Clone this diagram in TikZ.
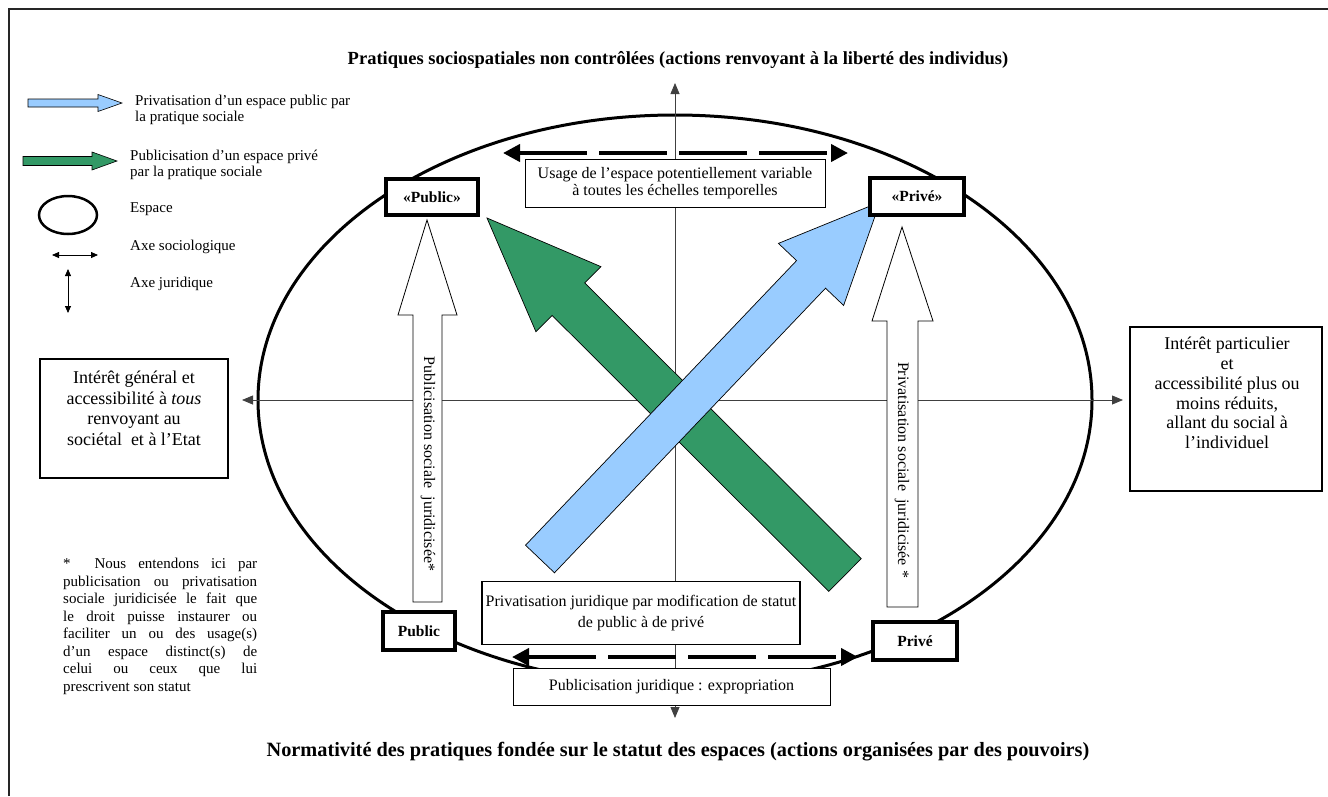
\documentclass[tikz,border=0pt]{standalone}
\usepackage{fontspec}
\setmainfont{Liberation Serif}
\usetikzlibrary{arrows.meta,calc}
\definecolor{lblue}{HTML}{99CCFF}
\definecolor{dgreen}{HTML}{339966}
\begin{document}
\begin{tikzpicture}[x=1pt,y=-1pt,
  axisline/.style={draw=black!75, line width=0.8pt, {Triangle[length=11pt,width=9pt]}-{Triangle[length=11pt,width=9pt]}},
  legaxis/.style={draw=black, line width=0.8pt, {Triangle[length=7pt,width=6pt]}-{Triangle[length=7pt,width=6pt]}},
  dasharr/.style={draw=black, line width=4pt, dash pattern=on 68pt off 12pt, {Triangle[length=17pt,width=17pt]}-{Triangle[length=17pt,width=17pt]}},
  tagbox/.style={draw=black, line width=3.5pt, fill=white, font=\fontsize{15.5}{17}\selectfont\bfseries, inner sep=0pt},
  plainbox/.style={draw=black, line width=1pt, fill=white, align=center, inner sep=0pt},
  sidebox/.style={draw=black, line width=1.5pt, fill=white, inner sep=0pt},
  sidetext/.style={anchor=north, align=center, inner sep=0pt},
  hollow/.style={draw=black, line width=0.8pt, fill=white},
  legtext/.style={anchor=west, align=left, inner sep=0pt, font=\fontsize{15}{16}\selectfont},
  vtext/.style={rotate=-90, inner sep=0pt, font=\fontsize{16}{18}\selectfont},
  titletext/.style={inner sep=0pt, font=\fontsize{18.5}{20}\selectfont\bfseries}
]
\useasboundingbox (0,0) rectangle (1328,796);
% frame
\draw[line width=1.2pt, black!85] (9,796) -- (9,9) -- (1328,9);

% titles
\node[titletext] (ttop) at (678,60) {Pratiques sociospatiales non contrôlées (actions renvoyant à la liberté des individus)};
\node[titletext, font=\fontsize{20.3}{22}\selectfont\bfseries] (tbot) at (678,752) {Normativité des pratiques fondée sur le statut des espaces (actions organisées par des pouvoirs)};

% legend
\draw[fill=lblue, line width=0.6pt] (28,99) -- (98,99) -- (98,94.5) -- (122,103) -- (98,111.5) -- (98,107) -- (28,107) -- cycle;
\node[legtext] (l1) at (135,110) {Privatisation d’un espace public par\\la pratique sociale};
\draw[fill=dgreen, line width=0.6pt] (23,156.5) -- (92,156.5) -- (92,152) -- (117,161) -- (92,170) -- (92,165.5) -- (23,165.5) -- cycle;
\node[legtext] (l2) at (130,165) {Publicisation d’un espace privé\\par la pratique sociale};
\draw[line width=2.5pt] (68,215) ellipse [x radius=29, y radius=19];
\node[legtext] (l3) at (130,209) {Espace};
\coordinate (sa) at (52,255); \coordinate (sb) at (98,255);
\draw[legaxis] (sa) -- (sb);
\node[legtext] (l4) at (130,247) {Axe sociologique};
\coordinate (ja) at (68,269); \coordinate (jb) at (68,313);
\draw[legaxis] (ja) -- (jb);
\node[legtext] (l5) at (130,284) {Axe juridique};

% ellipse
\draw[line width=3pt] (675,400) ellipse [x radius=417, y radius=285];

% axes
\coordinate (axT) at (675,83); \coordinate (axB) at (675,718);
\coordinate (axL) at (242,400); \coordinate (axR) at (1123,400);
\draw[axisline] (axT) -- (axB);
\draw[axisline] (axL) -- (axR);

% green arrow
\coordinate (gT) at (487,218); \coordinate (gE) at (845,575);
\coordinate (gH) at ($(gT)!115pt!(gE)$);
\draw[fill=dgreen, line width=0.7pt] (gT) -- ($(gH)!46pt!90:(gE)$) -- ($(gH)!23pt!90:(gE)$) -- ($(gE)!23pt!-90:(gH)$) -- ($(gE)!23pt!90:(gH)$) -- ($(gH)!23pt!-90:(gE)$) -- ($(gH)!46pt!-90:(gE)$) -- cycle;
% blue arrow
\coordinate (bT) at (880,202); \coordinate (bE) at (540,559);
\coordinate (bH) at ($(bT)!100pt!(bE)$);
\draw[fill=lblue, line width=0.7pt] (bT) -- ($(bH)!45pt!90:(bE)$) -- ($(bH)!20pt!90:(bE)$) -- ($(bE)!20pt!-90:(bH)$) -- ($(bE)!20pt!90:(bH)$) -- ($(bH)!20pt!-90:(bE)$) -- ($(bH)!45pt!-90:(bE)$) -- cycle;

% hollow vertical arrows
\draw[hollow] (427,220) -- (457,315) -- (442,315) -- (442,602) -- (413,602) -- (413,315) -- (398,315) -- cycle;
\node[vtext] (vl) at (428,464) {Publicisation sociale \ juridicisée*};
\draw[hollow] (902,227) -- (933,321) -- (918,321) -- (918,607) -- (887,607) -- (887,321) -- (872,321) -- cycle;
\node[vtext] (vr) at (902,470) {Privatisation sociale \ juridicisée *};

% tag boxes
\node[tagbox, minimum width=92pt, minimum height=36pt] (pubT) at (432,197) {«Public»};
\node[tagbox, minimum width=94pt, minimum height=37pt] (privT) at (917,196.5) {«Privé»};
\node[tagbox, minimum width=72pt, minimum height=38pt] (pubB) at (419,631) {Public};
\node[tagbox, minimum width=84pt, minimum height=38pt] (privB) at (915,641) {Privé};

% top box and dashed arrow
\coordinate (tdl) at (503,153); \coordinate (tdr) at (848,153);
\draw[dasharr] (tdl) -- (tdr);
\node[plainbox, minimum width=300pt, minimum height=48pt, font=\fontsize{16}{17.5}\selectfont] (topbox) at (675,183) {Usage de l’espace potentiellement variable\\à toutes les échelles temporelles};

% bottom boxes
\node[plainbox, line width=1.6pt, minimum width=318pt, minimum height=63pt, font=\fontsize{16}{21}\selectfont] (bot1) at (641,613) {Privatisation juridique par modification de statut\\de public à de privé};
\node[plainbox, minimum width=317pt, minimum height=37pt, font=\fontsize{16}{18}\selectfont] (bot2) at (671.5,686.5) {Publicisation juridique : expropriation};
\coordinate (bdl) at (512,657); \coordinate (bdr) at (858,657);
\draw[dasharr] (bdl) -- (bdr);

% side boxes
\node[sidebox, minimum width=188pt, minimum height=119pt] (lbox) at (134,418.5) {};
\node[sidetext, font=\fontsize{18}{20.5}\selectfont] (ltext) at (134,371) {Intérêt général et\\accessibilité à \textit{tous}\\renvoyant au\\sociétal \ et à l’Etat};
\node[sidebox, minimum width=192pt, minimum height=164pt] (rbox) at (1226,409) {};
\node[sidetext, font=\fontsize{18}{19.8}\selectfont] (rtext) at (1227,337) {Intérêt particulier\\et\\accessibilité plus ou\\moins réduits,\\allant du social à\\l’individuel};

% footnote
\node[anchor=north west, align=left, inner sep=0pt, font=\fontsize{15}{17.5}\selectfont] (fn) at (63,558) {%
\makebox[194pt][s]{* \ Nous entendons ici par}\\
\makebox[194pt][s]{publicisation ou privatisation}\\
\makebox[194pt][s]{sociale juridicisée le fait que}\\
\makebox[194pt][s]{le droit puisse instaurer ou}\\
\makebox[194pt][s]{faciliter un ou des usage(s)}\\
\makebox[194pt][s]{d’un espace distinct(s) de}\\
\makebox[194pt][s]{celui ou ceux que lui}\\
prescrivent son statut};
\end{tikzpicture}
\end{document}
